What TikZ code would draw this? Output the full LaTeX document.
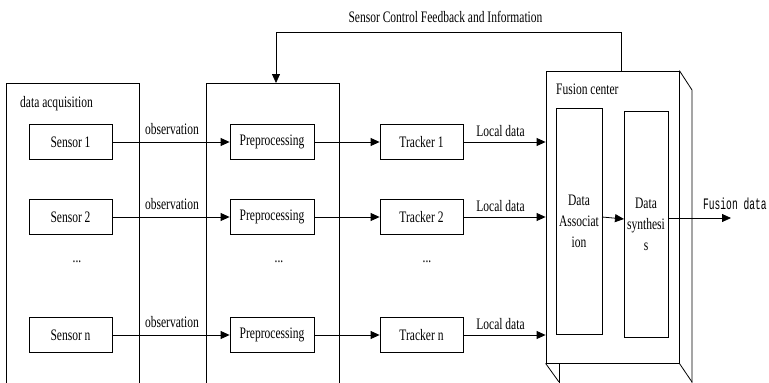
\documentclass[tikz,border=0pt]{standalone}
\usepackage{fontspec}
\setmainfont{Liberation Serif}[FakeStretch=0.72]
\newfontfamily\monof{Liberation Mono}[FakeStretch=0.6]
\usetikzlibrary{arrows.meta}
\begin{document}
\begin{tikzpicture}[x=1pt,y=-1pt,
  every node/.style={font=\fontsize{16}{18}\selectfont},
  blk/.style={draw, line width=0.8pt, inner sep=0pt, minimum width=83pt, minimum height=35pt},
  col/.style={draw, line width=0.8pt, inner sep=0pt, minimum width=46pt},
  lbl/.style={inner sep=0pt},
  ln/.style={line width=0.8pt},
  arr/.style={line width=0.8pt, -{Triangle[length=9pt,width=8pt]}}]
\useasboundingbox (0,0) rectangle (769,383);
% containers
\draw[ln] (6,383) -- (6,83) -- (139,83) -- (139,383);
\draw[ln] (206,383) -- (206,83) -- (339,83) -- (339,383);
\coordinate (mtop) at (276,83);
\node[lbl, anchor=west] (daq) at (20,104) {data acquisition};
% fusion centre
\node[draw, line width=0.8pt, minimum width=133pt, minimum height=292pt, inner sep=0pt] (fc) at (612.5,217) {};
\coordinate (fcb1) at (692,90);
\coordinate (fcb2) at (692,383);
\coordinate (fcb3) at (559,382);
\coordinate (fcb4) at (692,382);
\coordinate (fcb5) at (559,383);
\draw[ln] (fc.north east) -- (fcb1) -- (fcb2);
\draw[ln] (fc.south west) -- (fcb3);
\draw[ln] (fc.south east) -- (fcb4);
\draw[ln] (fc.south west -| fcb3) -- (fcb5);
\node[lbl, anchor=west] (fct) at (556,89) {Fusion center};
\node[col, minimum height=226pt] (da) at (579,221) {};
\node[col, minimum height=226pt, minimum width=44pt] (ds) at (646,224) {};
\node[lbl, align=center, font=\fontsize{16}{21}\selectfont] (dat) at (579,221) {Data\\Associat\\ion};
\node[lbl, align=center, font=\fontsize{16}{21}\selectfont] (dst) at (646,224) {Data\\synthesi\\s};
\coordinate (dsin) at (624,219);
\coordinate (fout) at (731,218);
\draw[arr] (602,217) -- (dsin);
\draw[arr] (ds.east |- fout) -- (fout);
\node[lbl, anchor=west, font=\monof\fontsize{16}{18}\selectfont] (fdt) at (703,204) {Fusion data};
% feedback
\coordinate (fb1) at (621,32);
\coordinate (fb2) at (276,32);
\draw[arr] ([xshift=8.5pt]fc.north) -- (fb1) -- (fb2) -- (mtop);
\node[lbl] (fbt) at (445.5,17) {Sensor Control Feedback and Information};
% rows
\foreach \i/\n/\y/\ly in {1/1/142/129, 2/2/217/204, 3/n/335/322}{
  \node[blk] (s\i) at (70.5,\y) {Sensor \n};
  \node[blk, minimum width=84pt] (p\i) at (272,\y) {Preprocessing};
  \node[blk] (t\i) at (421.5,\y) {Tracker \n};
  \draw[arr] (s\i) -- (p\i);
  \draw[arr] (p\i) -- (t\i);
  \draw[arr] (t\i) -- (t\i -| fc.west);
  \node[lbl] (o\i) at (172,\ly) {observation};
  \node[lbl] (l\i) at (500.5,\ly+2) {Local data};
}
\node[lbl] (d1) at (77,262) {...};
\node[lbl] (d2) at (279,262) {...};
\node[lbl] (d3) at (427,262) {...};
\end{tikzpicture}
\end{document}
